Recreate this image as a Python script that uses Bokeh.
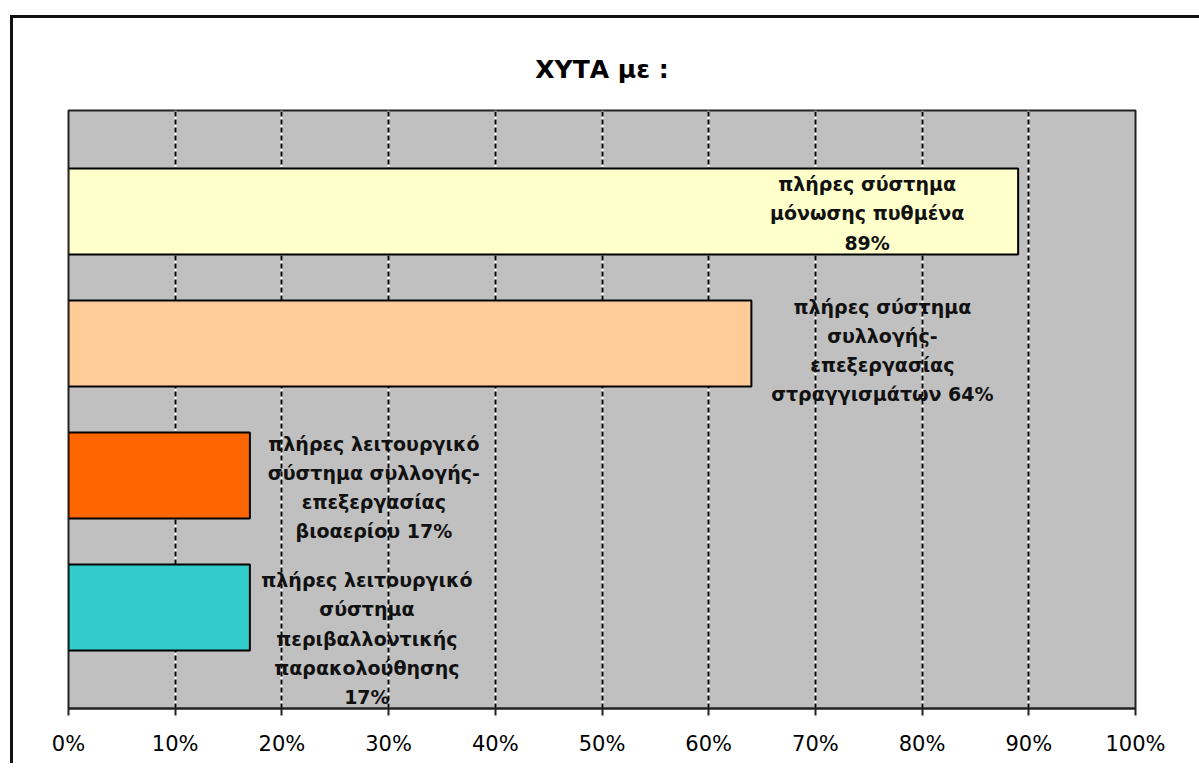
from bokeh.plotting import figure
from bokeh.models import Range1d, FixedTicker, PrintfTickFormatter, Grid, ColumnDataSource
from bokeh.core.properties import value
from bokeh.embed import file_html
from bokeh.resources import INLINE

# ---- data ----
title_text = "ΧΥΤΑ με :"
categories = [
    "πλήρες σύστημα\nμόνωσης πυθμένα",
    "πλήρες σύστημα\nσυλλογής-\nεπεξεργασίας\nστραγγισμάτων",
    "πλήρες λειτουργικό\nσύστημα συλλογής-\nεπεξεργασίας\nβιοαερίου",
    "πλήρες λειτουργικό\nσύστημα\nπεριβαλλοντικής\nπαρακολούθησης",
]
values = [89, 64, 17, 17]
colors = ["#FFFFCC", "#FFCC99", "#FF6600", "#33CCCC"]
x_ticks = [0, 10, 20, 30, 40, 50, 60, 70, 80, 90, 100]

# ---- label styling (pixel offsets of label centre from bar end / bar centre) ----
value_sep = ["\n", " ", " ", "\n"]
label_dx = [-151, 131, 124, 117]
label_dy = [2, 7, 12, 31]

n = len(categories)
ypos = [n - i for i in range(n)]
labels = [f"{c}{s}{v}%" for c, s, v in zip(categories, value_sep, values)]

src = ColumnDataSource(dict(y=ypos, v=values, color=colors, label=labels,
                            dx=label_dx, dy=label_dy))

p = figure(frame_width=1067, frame_height=598,
           x_range=Range1d(0, 100), y_range=Range1d(0.235, n + 0.765),
           output_backend="svg", toolbar_location=None,
           min_border_left=55, min_border_right=64, min_border_top=92, min_border_bottom=55,
           background_fill_color="#C0C0C0", border_fill_color="white",
           title=title_text)

# outer chart border (top and left edges visible)
p.styles = {"border-top": "3px solid #111111", "border-left": "3px solid #111111"}
p.margin = (15, 0, 0, 10)

p.title.align = "center"
p.title.text_font = "DejaVu Sans"
p.title.text_font_size = "25px"
p.title.text_font_style = "bold"
p.title.text_color = "black"
p.title.standoff = 53
p.title.offset = 8

p.outline_line_color = "#222222"
p.outline_line_width = 2

p.yaxis.visible = False
p.ygrid.visible = False

xa = p.xaxis[0]
xa.ticker = FixedTicker(ticks=x_ticks)
xa.formatter = PrintfTickFormatter(format="%d%%")
xa.axis_line_color = "#222222"
xa.axis_line_width = 2
xa.major_tick_line_color = "#222222"
xa.major_tick_line_width = 2
xa.major_tick_out = 7
xa.major_tick_in = 0
xa.minor_tick_line_color = None
xa.major_label_text_font = "DejaVu Sans"
xa.major_label_text_font_size = "21px"
xa.major_label_text_color = "black"
xa.major_label_standoff = 16

# white solid underlay + black dashed grid
p.xgrid.ticker = FixedTicker(ticks=x_ticks[1:-1])
p.xgrid.grid_line_color = "white"
p.xgrid.grid_line_width = 2
g2 = Grid(dimension=0, ticker=FixedTicker(ticks=x_ticks[1:-1]),
          grid_line_color="black", grid_line_width=2, grid_line_dash="5 3")
p.add_layout(g2)

p.hbar(y="y", right="v", left=0, height=0.65, fill_color="color",
       line_color="black", line_width=2, source=src)

p.text(x="v", y="y", text="label", x_offset="dx", y_offset="dy", source=src,
       text_align="center", text_baseline="middle",
       text_font=value("DejaVu Sans"), text_font_style="bold",
       text_font_size="19px", text_line_height=1.33, text_color="#111111")

open("out.html", "w").write(file_html(p, INLINE))
